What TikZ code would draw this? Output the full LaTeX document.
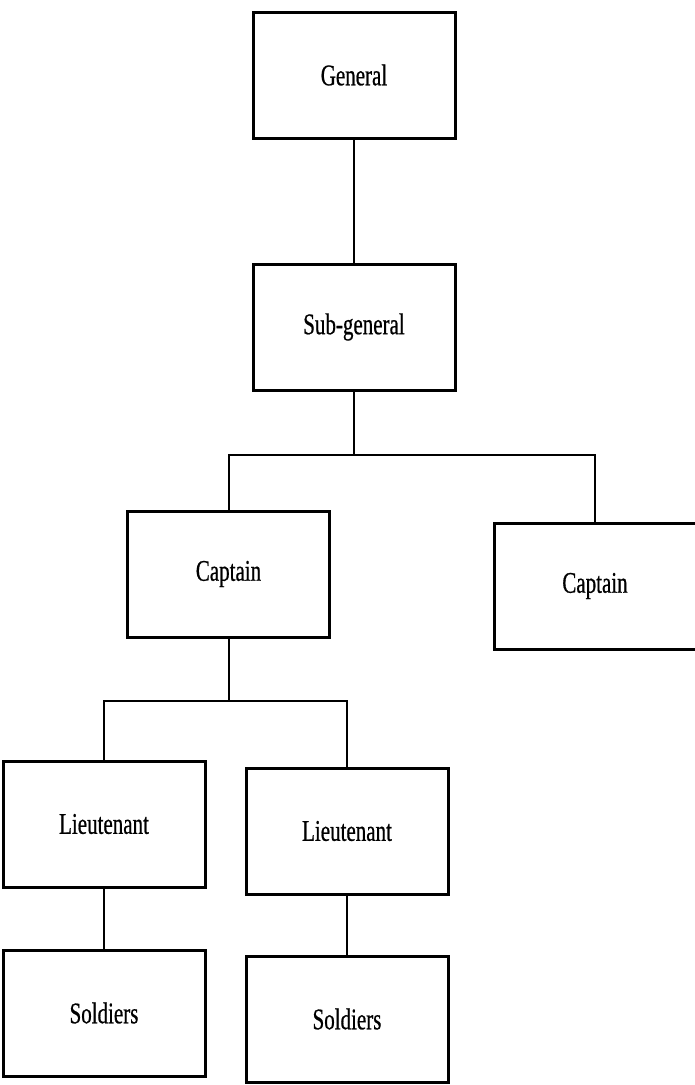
\documentclass[tikz,border=0pt]{standalone}
\usepackage{fontspec}
\setmainfont{Liberation Serif}[FakeStretch=0.7,FakeBold=0.6]
\begin{document}
\begin{tikzpicture}[x=1pt,y=-1pt,
  rank/.style={draw=black,line width=3pt,rectangle,inner sep=0pt,
    minimum width=202pt,minimum height=126pt,
    font=\fontsize{30}{35}\selectfont},
  link/.style={draw=black,line width=2pt}]
\useasboundingbox (0,0) rectangle (694,1085);
\fill[white] (0,0) rectangle (694,1085);
\node[rank] (gen) at (354,75) {General};
\node[rank] (sub) at (354,327) {Sub-general};
\node[rank] (capL) at (228.5,574) {Captain};
\node[rank] (capR) at (595,586) {Captain};
\node[rank] (ltL) at (104,824) {Lieutenant};
\node[rank] (ltR) at (347,831) {Lieutenant};
\node[rank] (solL) at (104,1013) {Soldiers};
\node[rank] (solR) at (347,1019) {Soldiers};
\coordinate (bus1) at (354,455);
\coordinate (bus2) at (228.5,701);
\draw[link] (gen.south) -- (sub.north);
\draw[link] (sub.south) -- (bus1);
\draw[link] (capL.north) |- (bus1) -| (capR.north);
\draw[link] (capL.south) -- (bus2);
\draw[link] (ltL.north) |- (bus2) -| (ltR.north);
\draw[link] (ltL.south) -- (solL.north);
\draw[link] (ltR.south) -- (solR.north);
\end{tikzpicture}
\end{document}
